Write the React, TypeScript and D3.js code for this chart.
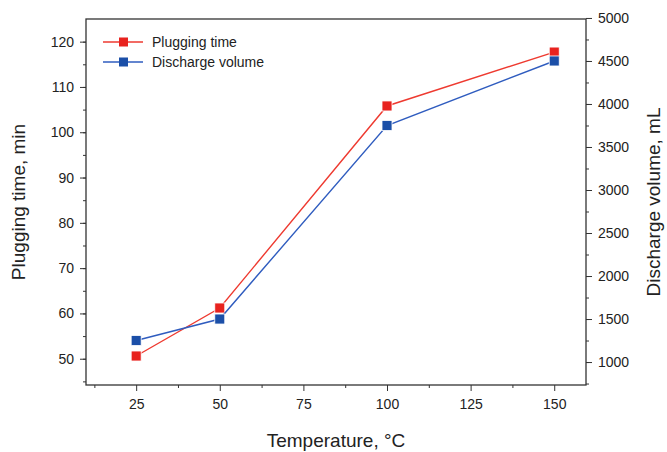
import { useEffect, useRef } from "react";
import * as d3 from "d3";

const temps = [25, 50, 100, 150];
const plugging = [50.6, 61.2, 105.8, 117.7];
const discharge = [1250, 1500, 3750, 4500];
const xTicks = [25, 50, 75, 100, 125, 150];
const leftTicks = [50, 60, 70, 80, 90, 100, 110, 120];
const rightTicks = [1000, 1500, 2000, 2500, 3000, 3500, 4000, 4500, 5000];

const App = () => {
  const ref = useRef<SVGSVGElement>(null);
  useEffect(() => {
    const svg = d3.select(ref.current);
    svg.selectAll("*").remove();
    const left = 86, right = 586, top = 19, bottom = 385;
    const font = "'Liberation Sans', Arial, sans-serif";

    const x = d3.scaleLinear().domain([10, 159.5]).range([left, right]);
    const yL = d3.scaleLinear().domain([44.2, 125]).range([bottom, top]);
    const yR = d3.scaleLinear().domain([733, 4988]).range([bottom, top]);

    svg.append("g").attr("transform", `translate(0,${bottom})`)
      .call(d3.axisBottom(x).tickValues(xTicks).tickSize(6).tickPadding(8).tickSizeOuter(0));
    svg.append("g").attr("transform", `translate(0,${bottom})`)
      .call(d3.axisBottom(x).tickValues(d3.range(12.5, 160, 25)).tickSize(3).tickFormat(() => "").tickSizeOuter(0));
    svg.append("g").attr("transform", `translate(${left},0)`)
      .call(d3.axisLeft(yL).tickValues(leftTicks).tickSize(6).tickPadding(6).tickSizeOuter(0));
    svg.append("g").attr("transform", `translate(${left},0)`)
      .call(d3.axisLeft(yL).tickValues(d3.range(45, 125, 5)).tickSize(3).tickFormat(() => "").tickSizeOuter(0));
    svg.append("g").attr("transform", `translate(${right},0)`)
      .call(d3.axisRight(yR).tickValues(rightTicks).tickFormat(d3.format("d")).tickSize(6).tickPadding(6).tickSizeOuter(0));
    svg.append("g").attr("transform", `translate(${right},0)`)
      .call(d3.axisRight(yR).tickValues(d3.range(750, 5000, 250)).tickSize(3).tickFormat(() => "").tickSizeOuter(0));

    svg.selectAll("text").attr("font-family", font).attr("font-size", 14).attr("fill", "#222");
    svg.selectAll(".domain").remove();
    svg.selectAll(".tick line").attr("stroke", "#333");

    svg.append("rect").attr("x", left).attr("y", top).attr("width", right - left).attr("height", bottom - top)
      .attr("fill", "none").attr("stroke", "#333").attr("stroke-width", 1.3);

    const series = [
      { vals: plugging, y: yL, color: "#e8231f", name: "Plugging time" },
      { vals: discharge, y: yR, color: "#1b4fa8", name: "Discharge volume" },
    ];
    const lineColors = ["#ee3a30", "#2f5cbf"];
    series.forEach((s, i) => {
      const line = d3.line<number>().x((_, j) => x(temps[j])).y(d => s.y(d));
      svg.append("path").attr("d", line(s.vals)).attr("fill", "none")
        .attr("stroke", lineColors[i]).attr("stroke-width", 1.4);
      svg.selectAll(null).data(s.vals).enter().append("rect")
        .attr("x", (_, j) => x(temps[j]) - 5).attr("y", d => s.y(d) - 5)
        .attr("width", 10).attr("height", 10).attr("fill", s.color)
        .attr("stroke", "#fff").attr("stroke-width", 0.8);
      const ly = 42 + i * 20;
      svg.append("line").attr("x1", 103).attr("x2", 143).attr("y1", ly).attr("y2", ly)
        .attr("stroke", lineColors[i]).attr("stroke-width", 1.4);
      svg.append("rect").attr("x", 119).attr("y", ly - 4.5).attr("width", 9).attr("height", 9).attr("fill", s.color);
      svg.append("text").attr("x", 152).attr("y", ly + 5).text(s.name)
        .attr("font-family", font).attr("font-size", 14).attr("fill", "#222");
    });

    svg.append("text").attr("x", (left + right) / 2).attr("y", 447).attr("text-anchor", "middle")
      .attr("font-family", font).attr("font-size", 19).attr("fill", "#222").text("Temperature, °C");
    svg.append("text").attr("transform", `translate(25,${(top + bottom) / 2}) rotate(-90)`).attr("text-anchor", "middle")
      .attr("font-family", font).attr("font-size", 19).attr("fill", "#222").text("Plugging time, min");
    svg.append("text").attr("transform", `translate(660,${(top + bottom) / 2}) rotate(-90)`).attr("text-anchor", "middle")
      .attr("font-family", font).attr("font-size", 19).attr("fill", "#222").text("Discharge volume, mL");
  }, []);
  return <svg ref={ref} width={667} height={452} style={{ position: "absolute", left: 0, top: 0, background: "#fff" }} />;
};

export default App;
